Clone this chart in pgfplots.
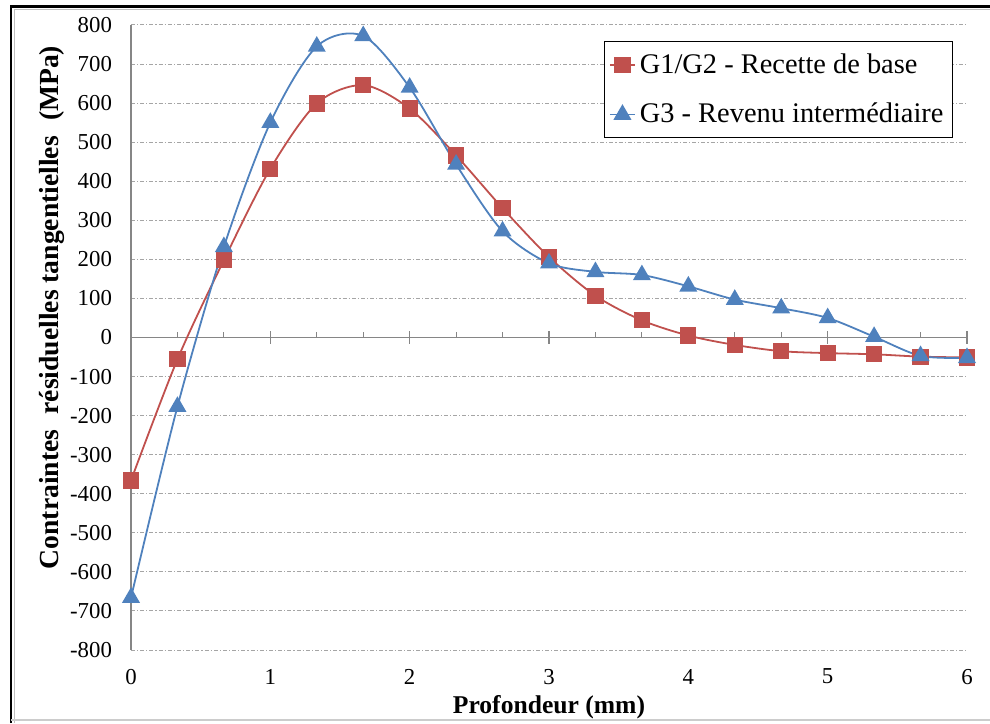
\documentclass[border=0pt]{standalone}
\usepackage{pgfplots}
\pgfplotsset{compat=1.18}
\usepackage{fontspec}
\setmainfont{Liberation Serif}
\definecolor{cred}{RGB}{192,80,77}
\definecolor{cblue}{RGB}{79,129,189}
\definecolor{axgray}{RGB}{134,134,134}
\definecolor{gridgray}{RGB}{165,165,165}

\pgfplotstableread{
x y
0.0000 -366
0.3333 -56
0.6667 198
1.0000 432
1.3333 599
1.6667 646
2.0000 586
2.3333 466
2.6667 331
3.0000 206
3.3333 107
3.6667 44
4.0000 5
4.3333 -19
4.6667 -35
5.0000 -40
5.3333 -43
5.6667 -49
6.0000 -51
}\redtab
\pgfplotstableread{
x y
0.0000 -666
0.3333 -177
0.6667 232
1.0000 550
1.3333 745
1.6667 772
2.0000 640
2.3333 443
2.6667 272
3.0000 190
3.3333 168
3.6667 160
4.0000 131
4.3333 97
4.6667 75
5.0000 50
5.3333 2
5.6667 -47
6.0000 -52
}\bluetab

\begin{document}
\begin{tikzpicture}
\useasboundingbox (0,0) rectangle (495pt,361.5pt);
% main axis: grid, tick labels, axis labels
\begin{axis}[
  at={(65.5pt,36.5pt)}, anchor=south west,
  scale only axis, width=418pt, height=312.5pt,
  xmin=0, xmax=6, ymin=-800, ymax=800,
  axis y line*=left, axis x line*=bottom,
  x axis line style={draw=none},
  y axis line style={draw=axgray, line width=0.6pt, -},
  xtick={0,1,2,3,4,5,6},
  ytick={-800,-700,...,800},
  major tick length=0pt,
  ymajorgrids,
  grid style={gridgray, line width=0.5pt, dash pattern=on 2pt off 1pt on 0.6pt off 1pt},
  tick label style={font=\fontsize{11.4}{13}\selectfont},
  /pgf/number format/assume math mode=true,
  yticklabel style={xshift=-6pt},
  xticklabel style={yshift=-6pt},
  xlabel={Profondeur (mm)},
  ylabel={Contraintes\hspace{0.55em}résiduelles tangentielles\hspace{0.55em}(MPa)},
  label style={font=\fontsize{12.8}{14}\selectfont\bfseries},
  ylabel style={at={(axis description cs:-0.0945,0.548)}, anchor=center, font=\fontsize{13.8}{15}\selectfont\bfseries},
  xlabel style={at={(axis description cs:0.5,-0.0912)}, anchor=center},
]
\end{axis}
% overlay axis: zero line with ticks, and the data
\begin{axis}[
  at={(65.5pt,36.5pt)}, anchor=south west,
  scale only axis, width=418pt, height=312.5pt,
  xmin=0, xmax=6, ymin=-800, ymax=800,
  axis x line=middle, axis y line=none,
  x axis line style={draw=axgray, line width=0.6pt, -},
  xtick={0,1,2,3,4,5,6}, xticklabels={},
  minor x tick num=2,
  tick align=center,
  major tick length=6.5pt, minor tick length=2.5pt,
  every tick/.style={axgray, line width=0.6pt},
  minor x tick style={yshift=1.25pt},
  legend style={at={(1,1)}, anchor=north east, xshift=-7pt, yshift=-8pt,
    draw=black, line width=0.5pt, font=\fontsize{14.2}{16}\selectfont,
    row sep=9.5pt, inner xsep=2.5pt, inner ysep=4pt},
  legend cell align=left,
  legend image code/.code={\draw[mark repeat=2,mark phase=2] plot coordinates {(0cm,0cm) (0.22cm,0cm) (0.44cm,0cm)};},
]
\addplot[cred, line width=0.9pt, smooth, tension=0.5, mark=square*, mark size=3.6pt, mark options={solid, fill=cred}] table[x=x,y=y] {\redtab};
\addlegendentry{G1/G2 - Recette de base}
\addplot[cblue, line width=0.9pt, smooth, tension=0.5, mark=triangle*, mark size=4.3pt, mark options={solid, fill=cblue}] table[x=x,y=y] {\bluetab};
\addlegendentry{G3 - Revenu intermédiaire}
\end{axis}
% chart border
\draw[black, line width=1.3pt] (5.5pt,0pt) -- (5.5pt,358.3pt) -- (495pt,358.3pt);
\draw[black!25, line width=0.5pt] (7.3pt,0pt) -- (7.3pt,356.5pt) -- (495pt,356.5pt);
\draw[black!20, line width=0.6pt] (5.5pt,1.5pt) -- (495pt,1.5pt);
\end{tikzpicture}
\end{document}
